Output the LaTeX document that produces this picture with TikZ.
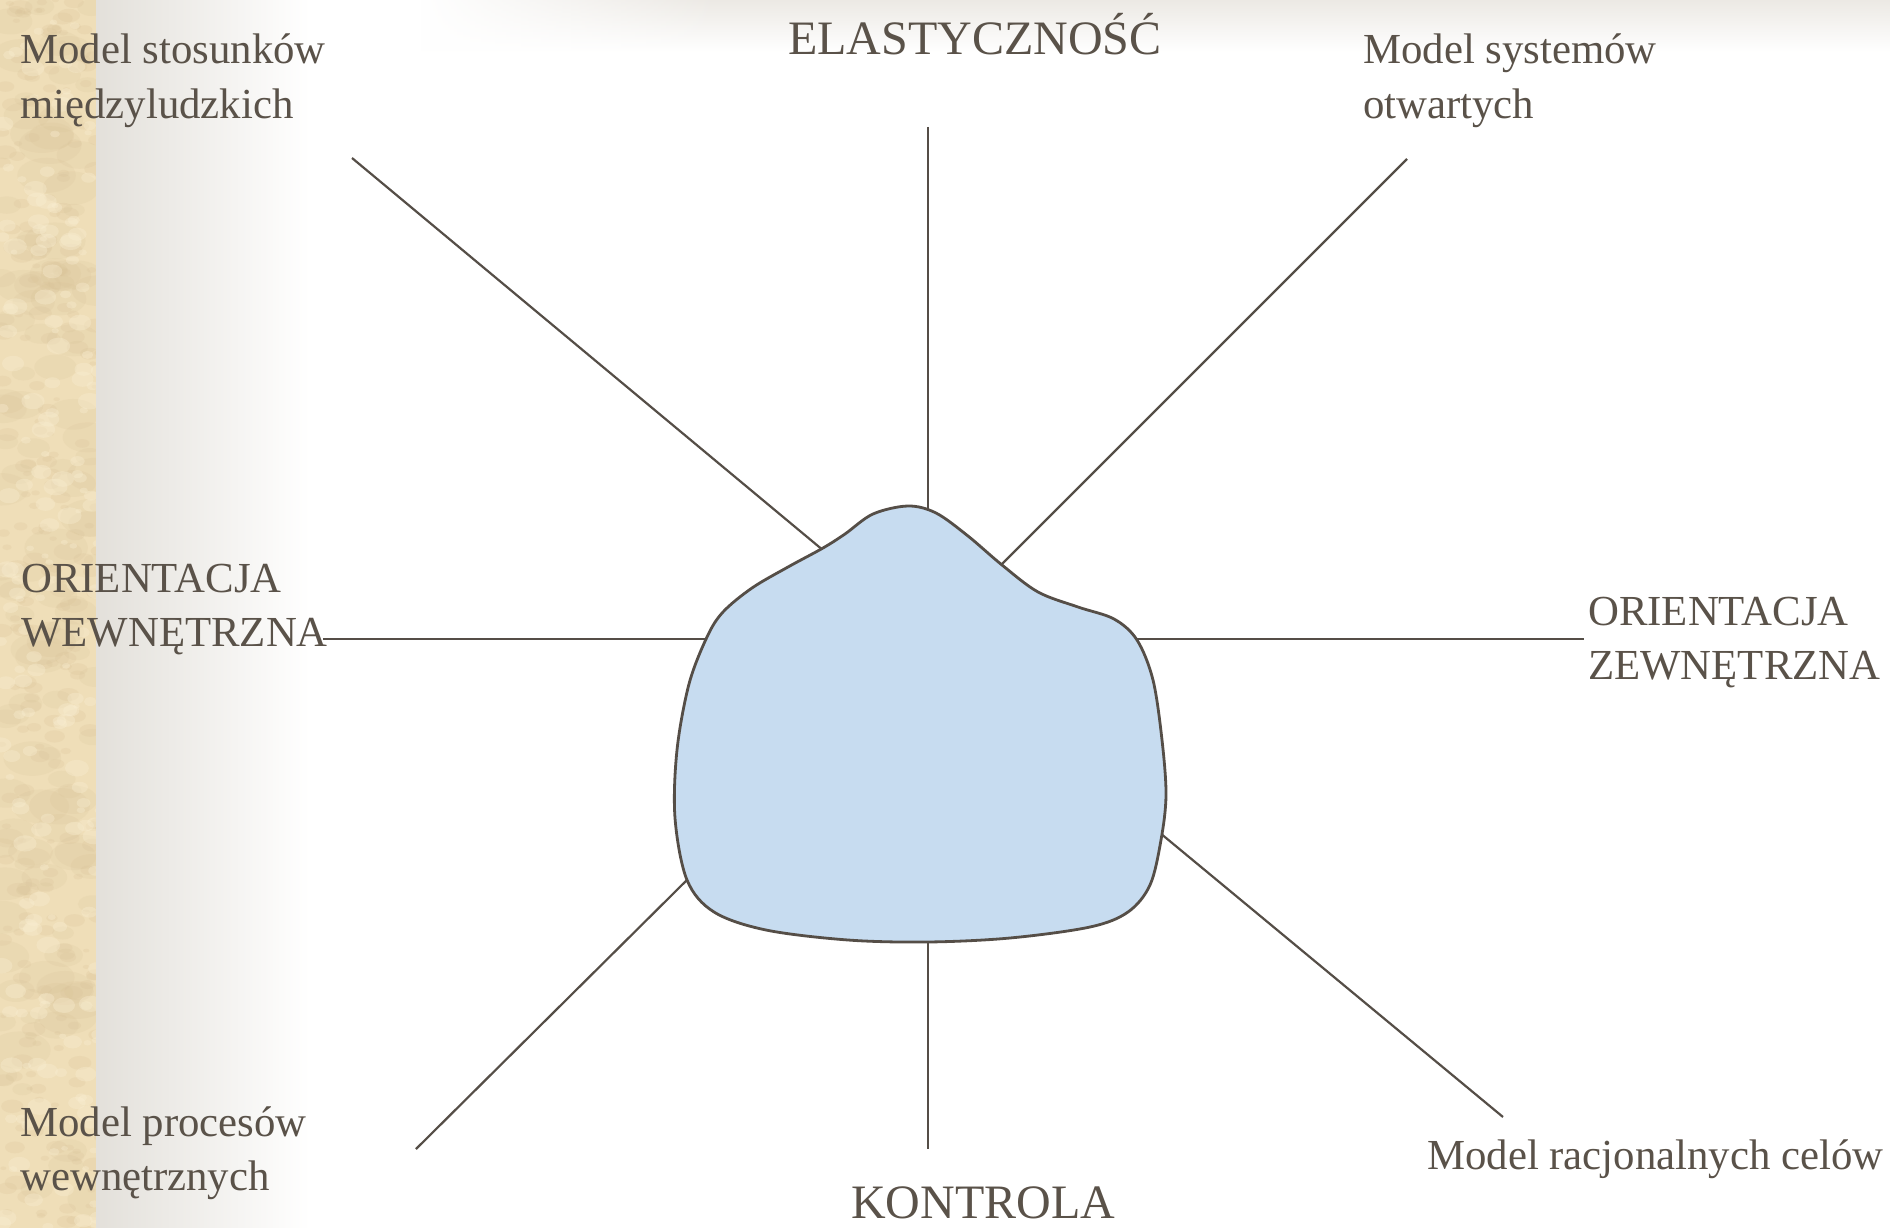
\documentclass[tikz,border=0pt]{standalone}
\usepackage{fontspec}
\setmainfont{Liberation Serif}
\usetikzlibrary{fadings}
\definecolor{txtc}{HTML}{5A5249}
\definecolor{linec}{HTML}{554E47}
\definecolor{blobc}{HTML}{C7DCF0}
\definecolor{stripc}{HTML}{EFDEB8}
\definecolor{stripd}{HTML}{D6BF94}
\definecolor{stripl}{HTML}{FAEFD3}
\definecolor{gshade}{HTML}{E3E0DA}
\definecolor{topgray}{HTML}{ECE9E4}
\tikzfading[name=fadeleft, left color=transparent!100, right color=transparent!0]
\tikzset{
  spoke/.style={draw=linec, line width=2.2pt},
  lbl/.style={text=txtc, inner sep=0pt, anchor=base west, font=\fontsize{42.8}{54.5}\selectfont},
  axislbl/.style={text=txtc, inner sep=0pt, anchor=base west, font=\fontsize{48}{54.5}\selectfont},
  blob/.style={draw=linec, line width=2.8pt, fill=blobc}
}
\begin{document}
\begin{tikzpicture}[x=1pt,y=-1pt]
\useasboundingbox (0,0) rectangle (1890,1228);
\fill[white] (0,0) rectangle (1890,1228);
% left textured strip
\begin{scope}
  \clip (0,0) rectangle (96,1228);
  \fill[stripc] (0,0) rectangle (96,1228);
  \pgfmathsetseed{11}
  \foreach \i in {1,...,120} {
    \pgfmathsetmacro{\rx}{rnd*100}
    \pgfmathsetmacro{\ry}{rnd*1230}
    \pgfmathsetmacro{\rr}{10+rnd*22}
    \fill[stripd, opacity=0.16] (\rx,\ry) ellipse [x radius=\rr, y radius=0.6*\rr];
  }
  \foreach \i in {1,...,260} {
    \pgfmathsetmacro{\rx}{rnd*100}
    \pgfmathsetmacro{\ry}{rnd*1230}
    \pgfmathsetmacro{\rr}{3+rnd*9}
    \fill[stripd, opacity=0.2] (\rx,\ry) ellipse [x radius=\rr, y radius=0.6*\rr];
  }
  \foreach \i in {1,...,200} {
    \pgfmathsetmacro{\rx}{rnd*100}
    \pgfmathsetmacro{\ry}{rnd*1230}
    \pgfmathsetmacro{\rr}{3+rnd*9}
    \fill[stripl, opacity=0.35] (\rx,\ry) ellipse [x radius=\rr, y radius=0.7*\rr];
  }
\end{scope}
% gray gradient next to strip
\shade[left color=gshade, right color=white] (96,0) rectangle (310,1228);
% top shadow band
\shade[top color=topgray, bottom color=white, path fading=fadeleft] (420,0) rectangle (720,52);
\shade[top color=topgray, bottom color=white] (719,0) rectangle (1890,52);

% connector end points
\coordinate (tv1) at (928,127);   \coordinate (tv2) at (928,530);
\coordinate (bv1) at (928,930);   \coordinate (bv2) at (928,1149);
\coordinate (lh1) at (323,639);   \coordinate (lh2) at (716,639);
\coordinate (rh1) at (1130,639);  \coordinate (rh2) at (1584,639);
\coordinate (tl1) at (352,158);   \coordinate (tl2) at (830,556);
\coordinate (tr1) at (1407,159);  \coordinate (tr2) at (996,570);
\coordinate (bl1) at (416,1149);  \coordinate (bl2) at (693,874);
\coordinate (br1) at (1154,828);  \coordinate (br2) at (1503,1117);

\draw[spoke] (tv1) -- (tv2);
\draw[spoke] (bv1) -- (bv2);
\draw[spoke] (lh1) -- (lh2);
\draw[spoke] (rh1) -- (rh2);
\draw[spoke] (tl1) -- (tl2);
\draw[spoke] (tr1) -- (tr2);
\draw[spoke] (bl1) -- (bl2);
\draw[spoke] (br1) -- (br2);

% central blob
\draw[blob] plot[smooth cycle, tension=0.55] coordinates {
 (908,506) (936,513) (968,536) (1002,565) (1038,592) (1078,607) (1114,619)
 (1137,640) (1153,680) (1162,740) (1166,795) (1161,840) (1150,885) (1128,912)
 (1090,927) (1010,938) (928,942) (848,940) (766,930) (714,912) (687,880)
 (675,818) (677,750) (689,684) (707,637) (723,612) (752,588) (788,567)
 (823,548) (845,534) (873,514)};

% labels
\node[lbl] (msm) at (20,64) {\begin{tabular}[t]{@{}l@{}}Model stosunków\\międzyludzkich\end{tabular}};
\node[axislbl] (ela) at (788,55) {ELASTYCZNOŚĆ};
\node[lbl] (mso) at (1363,64) {\begin{tabular}[t]{@{}l@{}}Model systemów\\otwartych\end{tabular}};
\node[lbl] (ow) at (21,592) {\begin{tabular}[t]{@{}l@{}}ORIENTACJA\\WEWNĘTRZNA\end{tabular}};
\node[lbl] (oz) at (1588,625) {\begin{tabular}[t]{@{}l@{}}ORIENTACJA\\ZEWNĘTRZNA\end{tabular}};
\node[lbl] (mpw) at (20,1136) {\begin{tabular}[t]{@{}l@{}}Model procesów\\wewnętrznych\end{tabular}};
\node[lbl] (mrc) at (1427,1169) {Model racjonalnych celów};
\node[axislbl] (kon) at (851,1218) {KONTROLA};
\end{tikzpicture}
\end{document}
